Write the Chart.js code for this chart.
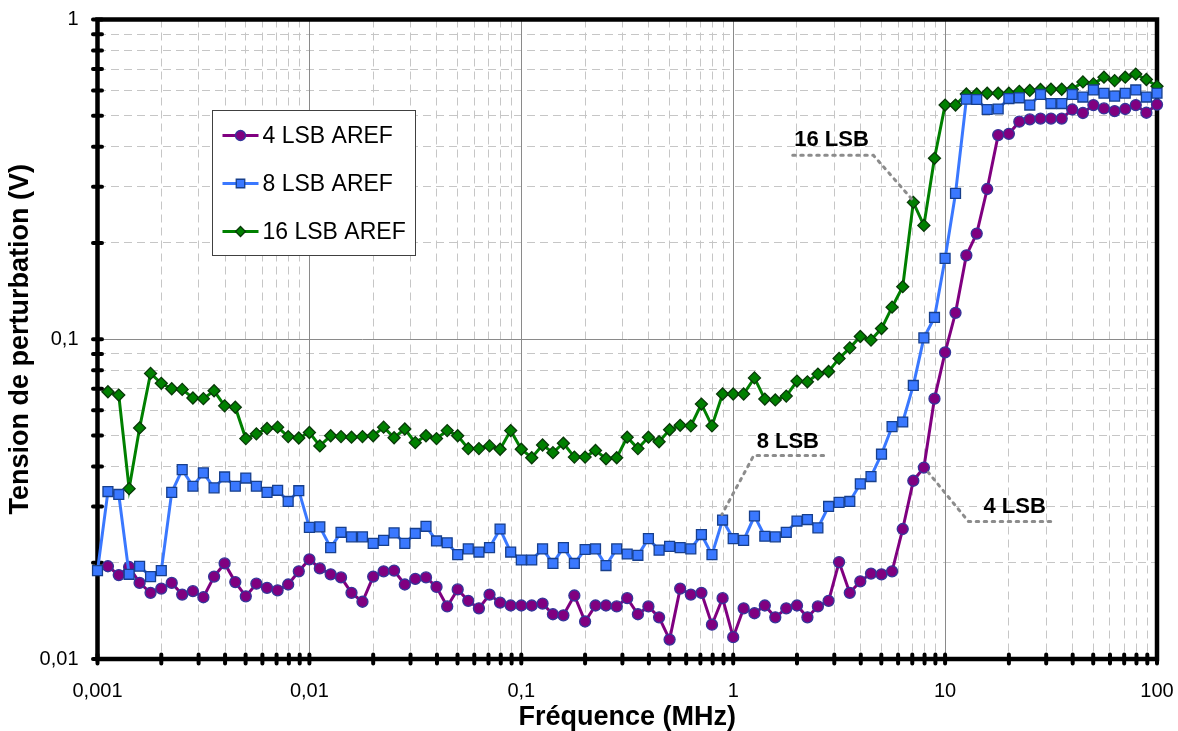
<!DOCTYPE html>
<html>
<head>
<meta charset="utf-8">
<title>Tension de perturbation</title>
<script src="https://cdn.jsdelivr.net/npm/chart.js@4.4.1/dist/chart.umd.min.js"></script>
<style>
  body { margin: 0; background: #fff; }
  #wrap { width: 1178px; height: 731px; }
</style>
</head>
<body>
<div id="wrap"><canvas id="myCanvas" width="1178" height="731"></canvas></div>
<script>
// frequencies of the sweep (MHz), 20 steps per decade
const freq = [
  0.001, 0.00112, 0.00126, 0.00141, 0.00158, 0.00178, 0.002, 0.00224, 0.00251, 0.00282,
  0.00316, 0.00355, 0.00398, 0.00447, 0.00501, 0.00562, 0.00631, 0.00708, 0.00794, 0.00891,
  0.01, 0.0112, 0.0126, 0.0141, 0.0158, 0.0178, 0.02, 0.0224, 0.0251, 0.0282,
  0.0316, 0.0355, 0.0398, 0.0447, 0.0501, 0.0562, 0.0631, 0.0708, 0.0794, 0.0891,
  0.1, 0.112, 0.126, 0.141, 0.158, 0.178, 0.2, 0.224, 0.251, 0.282,
  0.316, 0.355, 0.398, 0.447, 0.501, 0.562, 0.631, 0.708, 0.794, 0.891,
  1, 1.12, 1.26, 1.41, 1.58, 1.78, 2, 2.24, 2.51, 2.82,
  3.16, 3.55, 3.98, 4.47, 5.01, 5.62, 6.31, 7.08, 7.94, 8.91,
  10, 11.2, 12.6, 14.1, 15.8, 17.8, 20, 22.4, 25.1, 28.2,
  31.6, 35.5, 39.8, 44.7, 50.1, 56.2, 63.1, 70.8, 79.4, 89.1,
  100
];

const lsb4 = [
  null,
  0.0195, 0.0183, 0.0194, 0.0173, 0.0161, 0.0166, 0.0173, 0.0159, 0.0163, 0.0156,
  0.0181, 0.0199, 0.0174, 0.0157, 0.0172, 0.0167, 0.0164, 0.0171, 0.0188, 0.0205,
  0.0192, 0.0184, 0.0180, 0.0161, 0.0151, 0.0181, 0.0188, 0.0189, 0.0171, 0.0178,
  0.0180, 0.0168, 0.0146, 0.0165, 0.0152, 0.0144, 0.0159, 0.0150, 0.0147, 0.0147,
  0.0147, 0.0149, 0.0138, 0.0137, 0.0158, 0.0131, 0.0147, 0.0147, 0.0146, 0.0155,
  0.0138, 0.0146, 0.0135, 0.0115, 0.0166, 0.0159, 0.0161, 0.0128, 0.0155, 0.0117,
  0.0144, 0.0139, 0.0147, 0.0135, 0.0144, 0.0147, 0.0135, 0.0146, 0.0152, 0.0201,
  0.0161, 0.0175, 0.0185, 0.0184, 0.0188, 0.0255, 0.0361, 0.0397, 0.0652, 0.091,
  0.121, 0.183, 0.214, 0.295, 0.435, 0.439, 0.479, 0.487, 0.490, 0.490,
  0.490, 0.523, 0.510, 0.540, 0.527, 0.517, 0.525, 0.540, 0.511, 0.542
];

const lsb8 = [
  0.0189,
  0.0334, 0.0327, 0.0184, 0.0195, 0.0181, 0.0189, 0.0332, 0.0391, 0.0347, 0.0382,
  0.0343, 0.0371, 0.0347, 0.0368, 0.0347, 0.0332, 0.0337, 0.0311, 0.0336, 0.0258,
  0.0259, 0.0223, 0.0249, 0.0241, 0.0241, 0.0230, 0.0235, 0.0248, 0.0230, 0.0247,
  0.0260, 0.0234, 0.0231, 0.0212, 0.0221, 0.0216, 0.0223, 0.0255, 0.0216, 0.0204,
  0.0204, 0.0221, 0.0199, 0.0223, 0.0199, 0.0220, 0.0221, 0.0196, 0.0221, 0.0213,
  0.0211, 0.0238, 0.0219, 0.0225, 0.0223, 0.0221, 0.0245, 0.0212, 0.0272, 0.0238,
  0.0235, 0.0280, 0.0242, 0.0241, 0.0249, 0.0270, 0.0273, 0.0257, 0.0300, 0.0309,
  0.0311, 0.0353, 0.0372, 0.0437, 0.0533, 0.0551, 0.0717, 0.101, 0.117, 0.179,
  0.286, 0.563, 0.562, 0.523, 0.525, 0.566, 0.569, 0.540, 0.583, 0.546,
  0.546, 0.583, 0.572, 0.602, 0.588, 0.576, 0.588, 0.602, 0.572, 0.588
];

const lsb16 = [
  null,
  0.0685, 0.0669, 0.0341, 0.0528, 0.0782, 0.0728, 0.0700, 0.0697, 0.0655, 0.0652,
  0.0690, 0.0619, 0.0613, 0.0489, 0.0506, 0.0526, 0.0531, 0.0496, 0.0491, 0.0511,
  0.0464, 0.0499, 0.0496, 0.0494, 0.0496, 0.0499, 0.0531, 0.0492, 0.0524, 0.0475,
  0.0499, 0.0489, 0.0518, 0.0499, 0.0455, 0.0455, 0.0464, 0.0453, 0.0518, 0.0453,
  0.0426, 0.0467, 0.0442, 0.0473, 0.0428, 0.0428, 0.0449, 0.0423, 0.0426, 0.0494,
  0.0455, 0.0494, 0.0478, 0.0521, 0.0538, 0.0536, 0.0627, 0.0536, 0.0674, 0.0674,
  0.0674, 0.0757, 0.0650, 0.0646, 0.0664, 0.0740, 0.0736, 0.0778, 0.0793, 0.0871,
  0.0940, 0.102, 0.0994, 0.108, 0.126, 0.146, 0.268, 0.227, 0.368, 0.540,
  0.540, 0.585, 0.585, 0.588, 0.588, 0.588, 0.596, 0.600, 0.604, 0.605,
  0.605, 0.605, 0.638, 0.629, 0.660, 0.644, 0.660, 0.675, 0.649, 0.618
];

const seriesNames = ['4 LSB AREF', '8 LSB AREF', '16 LSB AREF'];

const xDecades = [0.001, 0.01, 0.1, 1, 10, 100];
const xTickLabels = ['0,001', '0,01', '0,1', '1', '10', '100'];
const yDecades = [0.01, 0.1, 1];
const yTickLabels = ['0,01', '0,1', '1'];

// annotations: label, text centre and leader path, in (MHz, V)
const noteLabels = ['16 LSB', '8 LSB', '4 LSB'];
const noteText = [[2.91, 0.42], [1.81, 0.0479], [21.3, 0.0299]];
const notePaths = [
    [[1.91, 0.376], [4.59, 0.376], [7.08, 0.271]],
    [[2.67, 0.0433], [1.25, 0.0433], [0.884, 0.0283]],
    [[31.5, 0.0269], [12.9, 0.0269], [8.34, 0.0383]]
];

const FONT = '"Liberation Sans", Arial, sans-serif';
Chart.defaults.font.family = FONT;
Chart.defaults.color = '#000';

function pairs(vals) {
    return vals.map((v, i) => ({x: freq[i], y: v}));
}

function decadeIndex(list, v) {
    return list.findIndex(d => Math.abs(d - v) / d < 1e-6);
}

function keepWholeTicks(scale) {
    //garder seulement 1..9 x 10^n
    scale.ticks = scale.ticks.filter(t => {
        const m = t.value / Math.pow(10, Math.floor(Math.log10(t.value) + 1e-9));
        return Math.abs(m - Math.round(m)) < 1e-6;
    });
}

function drawMarker(ctx, style, x, y, r, fill, stroke, bw) {
    ctx.beginPath();
    if (style === 'circle') {
        ctx.arc(x, y, r, 0, Math.PI * 2);
    } else if (style === 'rect') {
        const s = r * Math.SQRT1_2;
        ctx.rect(x - s, y - s, 2 * s, 2 * s);
    } else {
        ctx.moveTo(x, y - r);
        ctx.lineTo(x + r, y);
        ctx.lineTo(x, y + r);
        ctx.lineTo(x - r, y);
        ctx.closePath();
    }
    ctx.fillStyle = fill;
    ctx.fill();
    ctx.lineWidth = bw;
    ctx.strokeStyle = stroke;
    ctx.stroke();
}

const frame = {
    id: 'frame',
    beforeDatasetsDraw(chart) {
        const {ctx, chartArea: a, scales: {x, y}} = chart;
        ctx.save();
        // lignes principales
        ctx.strokeStyle = '#8a8a8a';
        ctx.lineWidth = 1;
        ctx.beginPath();
        xDecades.forEach(v => {
            const px = Math.round(x.getPixelForValue(v)) + 0.5;
            ctx.moveTo(px, a.top);
            ctx.lineTo(px, a.bottom);
        });
        yDecades.forEach(v => {
            const py = Math.round(y.getPixelForValue(v)) + 0.5;
            ctx.moveTo(a.left, py);
            ctx.lineTo(a.right, py);
        });
        ctx.stroke();

        // cadre noir
        ctx.strokeStyle = '#000';
        ctx.lineWidth = 4.5;
        ctx.strokeRect(a.left, a.top, a.right - a.left, a.bottom - a.top);

        // graduations sur les axes
        ctx.lineWidth = 4;
        ctx.lineCap = 'round';
        ctx.beginPath();
        x.ticks.forEach(t => {
            const px = x.getPixelForValue(t.value);
            ctx.moveTo(px, a.bottom - 4.5);
            ctx.lineTo(px, a.bottom + 4.5);
        });
        y.ticks.forEach(t => {
            const py = y.getPixelForValue(t.value);
            ctx.moveTo(a.left - 4.5, py);
            ctx.lineTo(a.left + 4.5, py);
        });
        ctx.stroke();
        ctx.restore();
    },
    afterDatasetsDraw(chart) {
        const {ctx, chartArea: a, scales: {x, y}} = chart;
        ctx.save();

        // annotations
        ctx.strokeStyle = '#8c8c8c';
        ctx.lineWidth = 3;
        ctx.lineCap = 'round';
        ctx.setLineDash([2.5, 5.5]);
        notePaths.forEach(path => {
            ctx.beginPath();
            path.forEach((p, i) => {
                const px = x.getPixelForValue(p[0]), py = y.getPixelForValue(p[1]);
                if (i === 0) ctx.moveTo(px, py); else ctx.lineTo(px, py);
            });
            ctx.stroke();
        });
        ctx.setLineDash([]);
        ctx.fillStyle = '#000';
        ctx.font = 'bold 22px ' + FONT;
        ctx.textAlign = 'center';
        ctx.textBaseline = 'middle';
        noteLabels.forEach((txt, i) => {
            ctx.fillText(txt, x.getPixelForValue(noteText[i][0]), y.getPixelForValue(noteText[i][1]));
        });

        // legende
        const bx = Math.round(a.left + 114) + 0.5, by = Math.round(a.top + 90) + 0.5;
        const bw = 203, bh = 145;
        ctx.fillStyle = '#fff';
        ctx.fillRect(bx, by, bw, bh);
        ctx.strokeStyle = '#404040';
        ctx.lineWidth = 1;
        ctx.strokeRect(bx, by, bw, bh);
        ctx.font = '23px ' + FONT;
        ctx.textAlign = 'left';
        chart.data.datasets.forEach((ds, i) => {
            const cy = by + 25 + i * 48;
            ctx.strokeStyle = ds.borderColor;
            ctx.lineWidth = 3;
            ctx.lineCap = 'butt';
            ctx.beginPath();
            ctx.moveTo(bx + 10, cy);
            ctx.lineTo(bx + 46, cy);
            ctx.stroke();
            drawMarker(ctx, ds.pointStyle, bx + 28, cy, ds.pointStyle === 'rect' ? 6 : 5,
                ds.pointBackgroundColor, ds.pointBorderColor, 1.3);
            ctx.fillStyle = '#000';
            ctx.fillText(ds.label, bx + 50, cy + 1);
        });
        ctx.restore();
    }
};

const ctx = document.getElementById("myCanvas");
new Chart(ctx, {
    type: 'line',
    data: {
        datasets: [{
            label: seriesNames[0],
            data: pairs(lsb4),
            borderColor: '#800080',
            borderWidth: 3,
            pointStyle: 'circle',
            pointRadius: 5.5,
            pointBackgroundColor: '#800080',
            pointBorderColor: '#35359a',
            pointBorderWidth: 1.3,
            order: 2,
            clip: false
        }, {
            label: seriesNames[1],
            data: pairs(lsb8),
            borderColor: '#3a78ff',
            borderWidth: 3,
            pointStyle: 'rect',
            pointRadius: 7,
            pointBackgroundColor: '#3a78ff',
            pointBorderColor: '#173f8c',
            pointBorderWidth: 1.3,
            order: 0,
            clip: false
        }, {
            label: seriesNames[2],
            data: pairs(lsb16),
            borderColor: '#008000',
            borderWidth: 3,
            pointStyle: 'rectRot',
            pointRadius: 6,
            pointBackgroundColor: '#008000',
            pointBorderColor: '#083808',
            pointBorderWidth: 1.3,
            order: 1,
            clip: false
        }]
    },
    options: {
        responsive: false,
        animation: false,
        layout: {padding: {top: 19.5, right: 21, left: 0, bottom: 0}},
        plugins: {
            legend: {display: false},
            tooltip: {enabled: false}
        },
        scales: {
            x: {
                type: 'logarithmic',
                min: 0.001,
                max: 100,
                afterBuildTicks: keepWholeTicks,
                afterFit: s => {
                    s.height = 72;
                    s.paddingLeft = 0;
                    s.paddingRight = 0;
                },
                grid: {
                    color: c => decadeIndex(xDecades, c.tick.value) >= 0 ? 'rgba(0,0,0,0)' : '#c6c6c6',
                    lineWidth: 1,
                    drawTicks: false
                },
                border: {display: false, dash: [8, 5]},
                ticks: {
                    autoSkip: false,
                    maxRotation: 0,
                    padding: 20,
                    font: {size: 20},
                    callback: v => {
                        const i = decadeIndex(xDecades, v);
                        return i >= 0 ? xTickLabels[i] : '';
                    }
                },
                title: {
                    display: true,
                    text: 'Fréquence (MHz)',
                    font: {size: 27, weight: 'bold', lineHeight: 1},
                    padding: {top: 0, bottom: 0}
                }
            },
            y: {
                type: 'logarithmic',
                min: 0.01,
                max: 1,
                afterBuildTicks: keepWholeTicks,
                afterFit: s => {
                    s.width = 97.5;
                    s.paddingTop = 0;
                    s.paddingBottom = 0;
                },
                grid: {
                    color: c => decadeIndex(yDecades, c.tick.value) >= 0 ? 'rgba(0,0,0,0)' : '#c6c6c6',
                    lineWidth: 1,
                    drawTicks: false
                },
                border: {display: false, dash: [8, 5]},
                ticks: {
                    autoSkip: false,
                    padding: 19,
                    font: {size: 20},
                    callback: v => {
                        const i = decadeIndex(yDecades, v);
                        return i >= 0 ? yTickLabels[i] : '';
                    }
                },
                title: {
                    display: true,
                    text: 'Tension de perturbation (V)',
                    font: {size: 27, weight: 'bold', lineHeight: 1},
                    padding: {top: 7, bottom: 0}
                }
            }
        }
    },
    plugins: [frame]
});
</script>
</body>
</html>
